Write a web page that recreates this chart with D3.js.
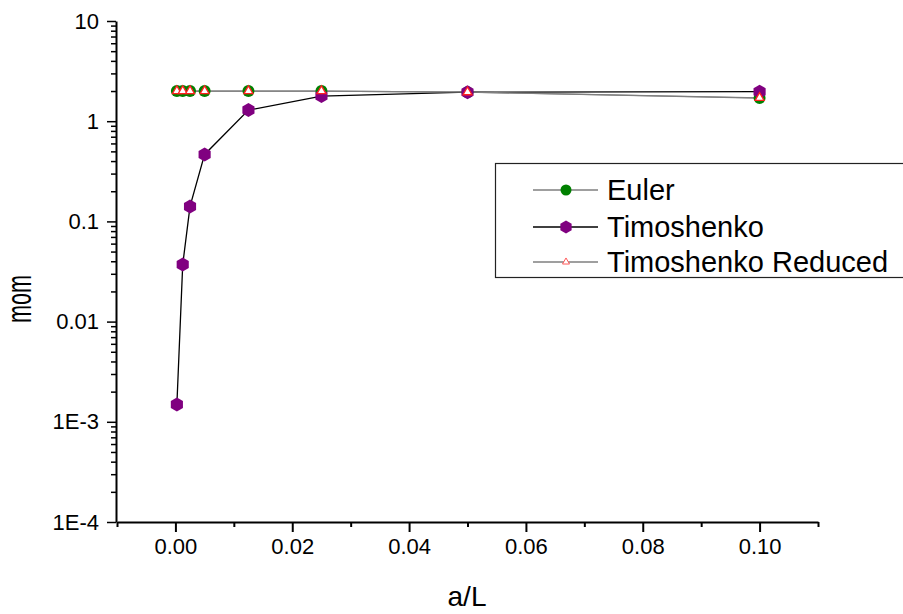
<!DOCTYPE html>
<html>
<head>
<meta charset="utf-8">
<script src="https://cdn.jsdelivr.net/npm/d3@7/dist/d3.min.js"></script>
<style>
  body { margin: 0; background: #fff; }
  svg text { font-family: "Liberation Sans", Arial, sans-serif; fill: #000; }
</style>
</head>
<body>
<svg id="chart"></svg>
<script>
// data
const aL = [0.00025, 0.00125, 0.0025, 0.005, 0.0125, 0.025, 0.05, 0.1];
const euler = [2.0, 2.0, 2.0, 2.0, 2.0, 2.0, 1.95, 1.70];
const timoshenko = [0.00149, 0.0371, 0.141, 0.466, 1.29, 1.78, 1.95, 1.97];
const timoReduced = [2.0, 2.0, 2.0, 2.0, 2.0, 2.0, 1.95, 1.71];

const seriesNames = ['Euler', 'Timoshenko', 'Timoshenko Reduced'];
const xMajor = [0, 0.02, 0.04, 0.06, 0.08, 0.10];
const xMinor = [-0.01, 0.01, 0.03, 0.05, 0.07, 0.09, 0.11];
const yMajor = [1e-4, 1e-3, 0.01, 0.1, 1, 10];
const yLabels = ['1E-4', '1E-3', '0.01', '0.1', '1', '10'];

const width = 903,
	height = 614;

const svg = d3.select('svg#chart')
	.attr('width', width)
	.attr('height', height);

const x = d3.scaleLinear().domain([-0.01, 0.11]).range([117, 818]);
const y = d3.scaleLog().domain([1e-4, 10]).range([522, 21]);

// minor y ticks: 2..9 in each decade
const yMinor = [];
for (let d = -4; d < 1; d++) {
	for (let k = 2; k <= 9; k++) yMinor.push(k * Math.pow(10, d));
}

// axes
svg.append('g')
	.attr('transform', 'translate(0,522)')
	.call(d3.axisBottom(x).tickValues(xMinor).tickSize(5).tickFormat(''))
	.call(g => g.select('.domain').remove())
	.selectAll('line').attr('stroke-width', 2);

svg.append('g')
	.attr('transform', 'translate(0,522)')
	.call(d3.axisBottom(x).tickValues(xMajor).tickSize(10).tickSizeOuter(0).tickPadding(6)
		.tickFormat(d3.format('.2f')))
	.call(g => g.select('.domain').attr('stroke-width', 2))
	.call(g => g.selectAll('line').attr('stroke-width', 2))
	.call(g => g.selectAll('text').attr('font-size', 22).attr('font-family', '"Liberation Sans", Arial, sans-serif'));

svg.append('g')
	.attr('transform', 'translate(116,0)')
	.call(d3.axisLeft(y).tickValues(yMinor).tickSize(5).tickFormat(''))
	.call(g => g.select('.domain').remove())
	.selectAll('line').attr('stroke-width', 1.5);

svg.append('g')
	.attr('transform', 'translate(116,0)')
	.call(d3.axisLeft(y).tickValues(yMajor).tickSize(9).tickSizeOuter(0).tickPadding(8)
		.tickFormat((d, i) => yLabels[i]))
	.call(g => g.select('.domain').attr('stroke-width', 2))
	.call(g => g.selectAll('line').attr('stroke-width', 1.5))
	.call(g => g.selectAll('text').attr('font-size', 22).attr('font-family', '"Liberation Sans", Arial, sans-serif'));

// axis titles
svg.append('text')
	.attr('x', 467)
	.attr('y', 606)
	.attr('text-anchor', 'middle')
	.attr('font-size', 28)
	.text('a/L');

svg.append('text')
	.attr('transform', 'translate(31,299) rotate(-90)')
	.attr('text-anchor', 'middle')
	.attr('font-size', 35)
	.attr('textLength', 48)
	.attr('lengthAdjust', 'spacingAndGlyphs')
	.text('mom');

// markers
const hexPath = r => d3.range(6).map(i => {
	const a = Math.PI / 2 + i * Math.PI / 3;
	return [r * Math.cos(a), r * Math.sin(a)];
});
const hexagon = r => 'M' + hexPath(r).join('L') + 'Z';
const triangle = s => {
	const h = s * Math.sqrt(3) / 2;
	return `M0,${-h * 2 / 3}L${s / 2},${h / 3}L${-s / 2},${h / 3}Z`;
};

const series = [
	{name: seriesNames[0], values: euler, line: '#7f7f7f', draw: (g) => g.append('circle').attr('r', 6).attr('fill', '#008000')},
	{name: seriesNames[1], values: timoshenko, line: '#000', draw: (g) => g.append('path').attr('d', hexagon(7)).attr('fill', '#800080')},
	{name: seriesNames[2], values: timoReduced, line: '#7f7f7f', draw: (g) => g.append('path').attr('d', triangle(9)).attr('fill', '#fff').attr('stroke', '#ff2020').attr('stroke-width', 1.3)}
];

const line = d3.line().x(d => x(d[0])).y(d => y(d[1]));

series.forEach(s => {
	const pts = aL.map((v, i) => [v, s.values[i]]);
	svg.append('path')
		.datum(pts)
		.attr('d', line)
		.attr('fill', 'none')
		.attr('stroke', s.line)
		.attr('stroke-width', 1.3);
});

series.forEach(s => {
	aL.forEach((v, i) => {
		const g = svg.append('g').attr('transform', `translate(${x(v)},${y(s.values[i])})`);
		s.draw(g);
	});
});

// legend (box runs off the right edge)
const legend = svg.append('g');
legend.append('rect')
	.attr('x', 495.5)
	.attr('y', 163.5)
	.attr('width', 420)
	.attr('height', 114)
	.attr('fill', '#fff')
	.attr('stroke', '#222')
	.attr('stroke-width', 1.2);

const legendMarkers = [
	g => g.append('circle').attr('r', 5.5).attr('fill', '#008000'),
	g => g.append('path').attr('d', hexagon(6.5)).attr('fill', '#800080'),
	g => g.append('path').attr('d', triangle(7)).attr('fill', '#fff').attr('stroke', '#ff5a5a').attr('stroke-width', 1)
];
const legendY = [190, 227, 262];

series.forEach((s, i) => {
	const row = legend.append('g').attr('transform', `translate(0,${legendY[i]})`);
	row.append('line')
		.attr('x1', 533).attr('x2', 598)
		.attr('stroke', s.line)
		.attr('stroke-width', 1.3);
	legendMarkers[i](row.append('g').attr('transform', 'translate(566,0)'));
	row.append('text')
		.attr('x', 607)
		.attr('y', 10)
		.attr('font-size', 29)
		.text(s.name);
});
</script>
</body>
</html>
